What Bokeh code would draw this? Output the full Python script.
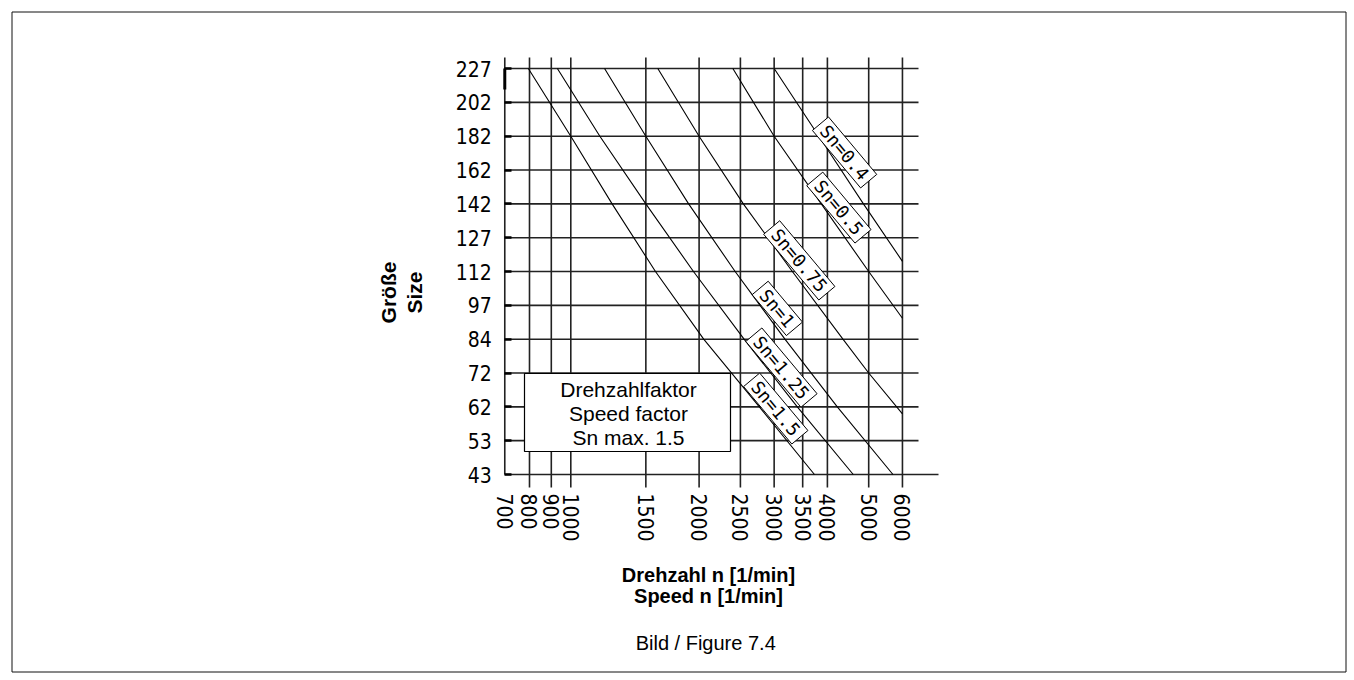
import numpy as np
from bokeh.plotting import figure
from bokeh.models import FixedTicker, PrintfTickFormatter, Label, Range1d
from bokeh.embed import file_html
from bokeh.resources import INLINE

# ---------------- data ----------------
SIZES = [43, 53, 62, 72, 84, 97, 112, 127, 142, 162, 182, 202, 227]
SPEED_TICKS = [700, 800, 900, 1000, 1500, 2000, 2500, 3000, 3500, 4000, 5000, 6000]

SN_NAMES = ["Sn=1.5", "Sn=1.25", "Sn=1", "Sn=0.75", "Sn=0.5", "Sn=0.4"]
# speed n, at positions on the size axis (index into SIZES)
SN15_N = [795, 1000, 1250, 1580, 2050, 2770, 3730]
SN15_POS = [12, 10, 8, 6, 4, 2, 0]
SN125_N = [930, 1170, 1500, 1940, 2550, 3400, 4600]
SN125_POS = [12, 10, 8, 6, 4, 2, 0]
SN1_N = [1200, 1500, 1890, 2430, 3180, 4220, 5700]
SN1_POS = [12, 10, 8, 6, 4, 2, 0]
SN075_N = [1600, 2000, 2540, 3310, 4350, 5000, 6000]
SN075_POS = [12, 10, 8, 6, 4, 3, 1.79]
SN05_N = [2400, 3000, 3870, 5000, 6000]
SN05_POS = [12, 10, 8, 6, 4.62]
SN04_N = [3000, 3820, 4860, 6000]
SN04_POS = [12, 10, 8, 6.3]
SN_LABEL_AT = [1.95, 3.16, 4.91, 6.33, 7.89, 9.52]   # label position along each curve

LEGEND_TEXT = "Drehzahlfaktor\nSpeed factor\nSn max. 1.5"
Y_TITLE = "Größe\nSize"
X_TITLE = "Drehzahl n [1/min]\nSpeed n [1/min]"
CAPTION = "Bild / Figure  7.4"

# ---------------- layout (page pixels) ----------------
W, H = 1350, 676
X_A, X_B = -708.3, 426.2          # page x = X_A + X_B * log10(n)
Y0_PX, ROW_PX = 474.0, 33.83      # page y of first size row, px per row
GRID_TOP, GRID_BOT = 57, 487
ROW_RIGHT, AXIS_RIGHT = 918, 938
BORDER = (11.5, 11.5, 1345.5, 671.5)

TICK_FONT = "'Liberation Sans Narrow', 'DejaVu Sans Condensed', sans-serif"
LABEL_FONT = "'DejaVu Sans Mono', monospace"
SANS = "'Liberation Sans', Arial, sans-serif"


def n_at(px):
    return 10 ** ((px - X_A) / X_B)


def pos_at(py):
    return (Y0_PX - py) / ROW_PX


p = figure(width=W, height=H, x_axis_type="log",
           x_range=Range1d(n_at(0), n_at(W)),
           y_range=Range1d(pos_at(H), pos_at(0)),
           output_backend="svg", toolbar_location=None,
           min_border_left=0, min_border_right=0, min_border_top=0, min_border_bottom=0)
p.outline_line_color = None
p.background_fill_color = "white"
p.border_fill_color = "white"
p.xgrid.visible = False
p.ygrid.visible = False

GRID_C = "#222222"
GRID_W = 1.6
x0 = SPEED_TICKS[0]

# x axis (labels only, drawn at the bottom of the grid)
xa = p.xaxis[0]
xa.fixed_location = pos_at(GRID_BOT)
xa.ticker = FixedTicker(ticks=SPEED_TICKS)
xa.formatter = PrintfTickFormatter(format="%d")
xa.major_label_orientation = "vertical"
xa.axis_line_color = None
xa.major_tick_in = 0
xa.major_tick_out = 0
xa.major_tick_line_color = None
xa.minor_tick_line_color = None
xa.major_label_standoff = 6
xa.major_label_text_font = TICK_FONT
xa.major_label_text_font_size = "21px"
xa.major_label_text_color = "black"

# y axis
ya = p.yaxis[0]
ya.fixed_location = x0
ya.ticker = FixedTicker(ticks=list(range(len(SIZES))))
ya.major_label_overrides = {i: str(s) for i, s in enumerate(SIZES)}
ya.axis_line_color = None
ya.major_tick_in = 7
ya.major_tick_out = 0
ya.major_tick_line_width = 2.5
ya.major_tick_line_color = "black"
ya.minor_tick_line_color = None
ya.major_label_standoff = 13
ya.major_label_text_font = TICK_FONT
ya.major_label_text_font_size = "21px"
ya.major_label_text_color = "black"

# page border
p.quad(left=[n_at(BORDER[0])], right=[n_at(BORDER[2])], top=[pos_at(BORDER[1])],
       bottom=[pos_at(BORDER[3])], fill_color=None, line_color="#111111", line_width=1)

# grid: vertical lines at the speed ticks, horizontal lines at the sizes
vt = SPEED_TICKS[1:]
p.segment(x0=vt, y0=[pos_at(GRID_BOT)] * len(vt), x1=vt, y1=[pos_at(GRID_TOP)] * len(vt),
          line_color=GRID_C, line_width=GRID_W)
rows = list(range(len(SIZES)))
x_end = [n_at(AXIS_RIGHT) if r == 0 else n_at(ROW_RIGHT) for r in rows]
p.segment(x0=[x0] * len(rows), y0=rows, x1=x_end, y1=rows,
          line_color=GRID_C, line_width=GRID_W)
p.segment(x0=[x0], y0=[0], x1=[x0], y1=[pos_at(GRID_TOP)],
          line_color=GRID_C, line_width=GRID_W)
p.segment(x0=[x0], y0=[len(SIZES) - 1], x1=[x0], y1=[pos_at(89)],
          line_color="black", line_width=3)

# Sn curves
curves = [(SN15_N, SN15_POS), (SN125_N, SN125_POS), (SN1_N, SN1_POS),
          (SN075_N, SN075_POS), (SN05_N, SN05_POS), (SN04_N, SN04_POS)]
for n, pos in curves:
    p.line(n, pos, line_color="black", line_width=1.1)

# legend box
p.quad(left=[n_at(524)], right=[n_at(730)], bottom=[pos_at(451)], top=[pos_at(373)],
       fill_color="white", line_color="black", line_width=1.2)
p.add_layout(Label(x=n_at(628), y=pos_at(413), text=LEGEND_TEXT, text_align="center",
                   text_baseline="middle", text_font=SANS, text_font_size="21px",
                   text_line_height=1.05, text_color="black"))

# Sn labels
for name, (n, pos), at in zip(SN_NAMES, curves, SN_LABEL_AT):
    pr = np.array(pos[::-1], dtype=float)
    ln = np.log10(np.array(n[::-1], dtype=float))
    xl = 10 ** np.interp(at, pr, ln)
    p.add_layout(Label(x=xl, y=at, text=name, angle=-50, angle_units="deg",
                       text_align="center", text_baseline="middle",
                       x_offset=15, text_font=LABEL_FONT, text_font_size="18px",
                       background_fill_color="white", border_line_color="black",
                       border_line_width=1, padding=(5, 0), text_color="black"))

# titles
p.add_layout(Label(x=n_at(401), y=pos_at(292), text=Y_TITLE, angle=90, angle_units="deg",
                   text_align="center", text_baseline="middle", text_font=SANS,
                   text_font_style="bold", text_font_size="21px", text_line_height=1.15,
                   text_color="black"))
p.add_layout(Label(x=n_at(708), y=pos_at(585), text=X_TITLE, text_align="center",
                   text_baseline="middle", text_font=SANS, text_font_style="bold",
                   text_font_size="20px", text_line_height=0.95, text_color="black"))
p.add_layout(Label(x=n_at(708), y=pos_at(642), text=CAPTION, text_align="center",
                   text_baseline="middle", text_font=SANS, text_font_size="20px",
                   text_color="black"))

open("out.html", "w").write(file_html(p, INLINE))
